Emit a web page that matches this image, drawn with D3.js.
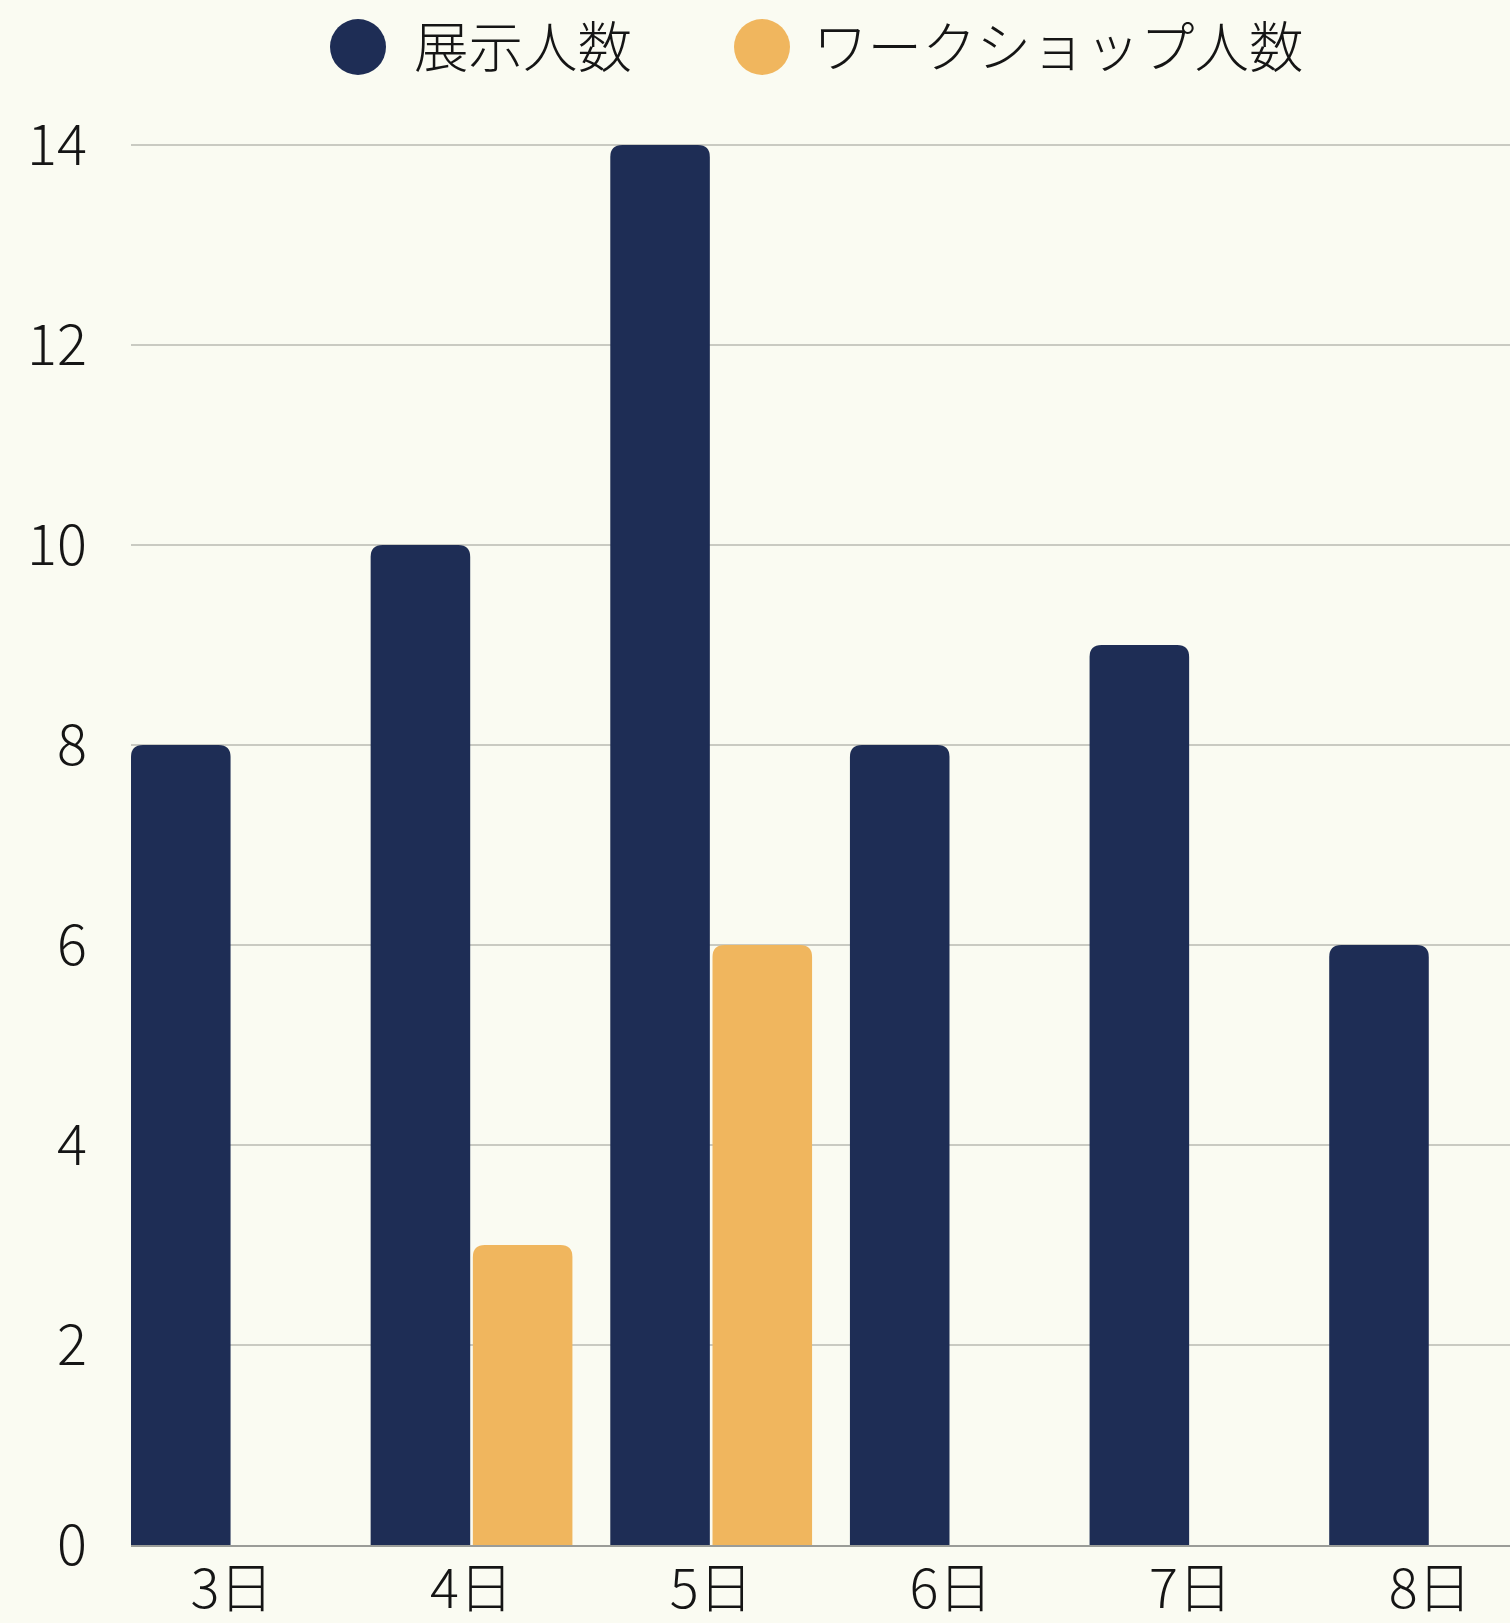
<!DOCTYPE html>
<html>
<head>
<meta charset="utf-8">
<script src="https://cdn.jsdelivr.net/npm/d3@7"></script>
<style>
  html, body { margin: 0; padding: 0; background: #fafbf2; }
  svg { display: block; }
  text { font-family: "Noto Sans CJK JP", "Noto Sans", sans-serif; fill: #151515; }
</style>
</head>
<body>
<script>
const categories = ["3日", "4日", "5日", "6日", "7日", "8日"];
const seriesNames = ["展示人数", "ワークショップ人数"];
const exhibitValues = [8, 10, 14, 8, 9, 6];
const workshopValues = [0, 3, 6, 0, 0, 0];
const yTicks = [0, 2, 4, 6, 8, 10, 12, 14];
const colors = ["#1e2d55", "#f0b65e"];

const W = 1510, H = 1623;
const plotLeft = 131, plotRight = 1531, plotTop = 145, plotBottom = 1545;

const svg = d3.select("body").append("svg").attr("width", W).attr("height", H);
svg.append("rect").attr("width", W).attr("height", H).attr("fill", "#fafbf2");

const x0 = d3.scaleBand().domain(categories).range([plotLeft, plotRight])
  .paddingInner(0.158).paddingOuter(0).align(0);
const x1 = d3.scaleBand().domain(seriesNames).range([0, x0.bandwidth()]).paddingInner(0.026);
const y = d3.scaleLinear().domain([0, 14]).range([plotBottom, plotTop]);

// gridlines
const grid = svg.append("g");
grid.selectAll("line").data(yTicks.filter(d => d > 0)).join("line")
  .attr("x1", plotLeft).attr("x2", W)
  .attr("y1", d => y(d)).attr("y2", d => y(d))
  .attr("stroke", "#c9cac2").attr("stroke-width", 2);

// y labels
const yAxis = d3.axisLeft(y).tickValues(yTicks).tickSize(0).tickPadding(0);
const yg = svg.append("g").attr("transform", `translate(87,0)`).call(yAxis);
yg.select(".domain").remove();
yg.selectAll("text").attr("font-size", 56).attr("font-weight", 300)
  .attr("fill", "#151515").attr("font-family", "'Noto Sans CJK JP', sans-serif")
  .attr("dy", "0.35em");

// bars
function topRounded(x, yTop, w, h, r) {
  r = Math.min(r, w / 2, h);
  return `M${x},${yTop + h}V${yTop + r}Q${x},${yTop} ${x + r},${yTop}H${x + w - r}Q${x + w},${yTop} ${x + w},${yTop + r}V${yTop + h}Z`;
}
const data = categories.map((c, i) => ({ cat: c, vals: [exhibitValues[i], workshopValues[i]] }));
const groups = svg.append("g").selectAll("g").data(data).join("g")
  .attr("transform", d => `translate(${x0(d.cat)},0)`);
groups.selectAll("path").data(d => d.vals.map((v, j) => ({ v, s: seriesNames[j], j })).filter(e => e.v > 0))
  .join("path")
  .attr("d", e => topRounded(x1(e.s), y(e.v), x1.bandwidth(), y(0) - y(e.v), 12))
  .attr("fill", e => colors[e.j]);

// baseline
svg.append("line").attr("x1", plotLeft).attr("x2", W).attr("y1", y(0) + 1).attr("y2", y(0) + 1)
  .attr("stroke", "#9a9c98").attr("stroke-width", 2);

// x labels
const xAxis = d3.axisBottom(x0).tickSize(0).tickPadding(0);
const xg = svg.append("g").attr("transform", `translate(0,${plotBottom})`).call(xAxis);
xg.select(".domain").remove();
xg.selectAll("text").attr("font-size", 54).attr("font-weight", 300)
  .attr("fill", "#151515").attr("font-family", "'Noto Sans CJK JP', sans-serif")
  .attr("dy", null).attr("y", 63);

// legend
const legend = svg.append("g");
const legendItems = [{ name: seriesNames[0], cx: 358, tx: 414 }, { name: seriesNames[1], cx: 762, tx: 813 }];
legendItems.forEach((d, i) => {
  legend.append("circle").attr("cx", d.cx).attr("cy", 47).attr("r", 28).attr("fill", colors[i]);
  legend.append("text").attr("x", d.tx).attr("y", 47).attr("dy", "0.36em")
    .attr("font-size", 54.5).attr("font-weight", 300).text(d.name);
});
</script>
</body>
</html>
